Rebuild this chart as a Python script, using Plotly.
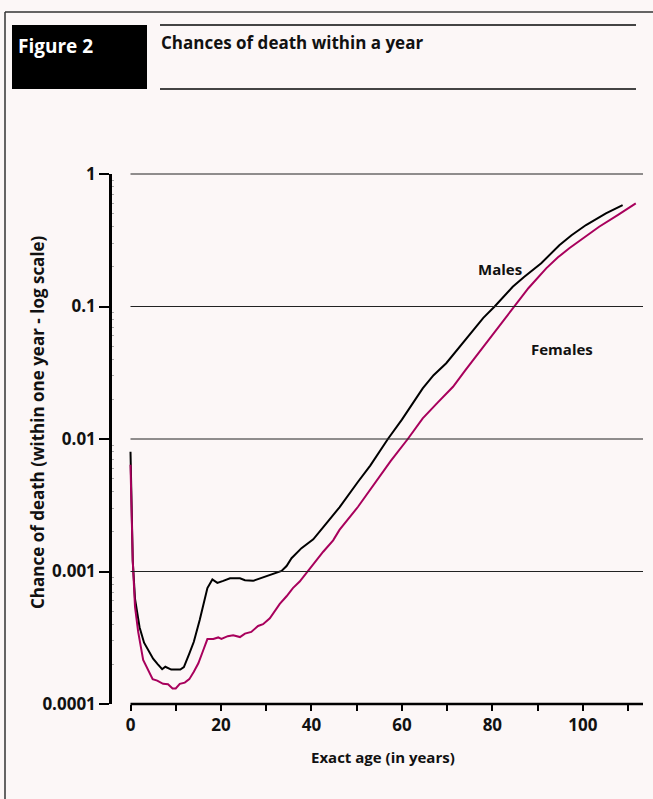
import math
import plotly.graph_objects as go

# Annual probability of death by exact age (log scale)
male_age = [0, 0.5, 1, 2, 3, 4, 5, 6, 7, 7.7, 8.5, 9, 11, 11.8, 13, 14, 15.3, 17, 18.1,
            19.2, 20.5, 22, 24.2, 25.3, 27.1, 30.1, 31.9, 33.4, 34.5, 35.6, 37.8, 40.4,
            43.3, 46.2, 50.3, 53, 56.9, 60, 64.6, 67, 69.8, 72, 75.7, 78, 80.5, 84.5, 87,
            90.8, 94.8, 97.5, 100.7, 105.1, 108.8]
male_q = [0.0080, 0.0012, 0.00062, 0.00038, 0.00029, 0.00025, 0.00022, 0.00020, 0.000183,
          0.000191, 0.000185, 0.000182, 0.000182, 0.00019, 0.00024, 0.000295, 0.00043,
          0.00075, 0.00087, 0.00082, 0.00085, 0.00089, 0.00089, 0.00086, 0.00085, 0.00092,
          0.00096, 0.00101, 0.00110, 0.00126, 0.00150, 0.00175, 0.00231, 0.00305, 0.00476,
          0.0063, 0.0100, 0.0140, 0.0241, 0.0303, 0.0373, 0.0460, 0.0665, 0.0820, 0.100,
          0.141, 0.167, 0.212, 0.290, 0.345, 0.412, 0.505, 0.583]

female_age = [0, 0.5, 1, 1.7, 2.8, 4, 4.9, 5.9, 7.2, 8.3, 9.3, 10, 10.9, 12, 13, 14, 15, 16,
              17, 18.3, 19.4, 20.1, 21.5, 22.7, 24.2, 25.3, 26.7, 28.2, 29.3, 30.8, 33,
              34.5, 35.9, 37.4, 39.2, 42.6, 44.8, 46.2, 50.3, 54, 57.5, 61.3, 64.6, 68,
              71.3, 74, 77.2, 80.5, 84.9, 88, 91.9, 94.5, 97, 100, 103.6, 107.7, 111.7]
female_q = [0.0064, 0.0012, 0.00054, 0.00035, 0.000215, 0.000175, 0.000154, 0.000150,
            0.000142, 0.000141, 0.000131, 0.000131, 0.000142, 0.000145, 0.000154, 0.000175,
            0.000203, 0.00025, 0.000309, 0.00031, 0.000318, 0.00031, 0.000325, 0.00033,
            0.00032, 0.00034, 0.00035, 0.000388, 0.00040, 0.000444, 0.00057, 0.00065,
            0.00075, 0.00084, 0.00101, 0.00141, 0.00172, 0.00206, 0.00308, 0.0046, 0.0068,
            0.0100, 0.0143, 0.0190, 0.0248, 0.0330, 0.0456, 0.064, 0.100, 0.138, 0.194,
            0.235, 0.275, 0.325, 0.40, 0.49, 0.60]

y_ticks = [0.0001, 0.001, 0.01, 0.1, 1]
y_tick_text = ["0.0001", "0.001", "0.01", "0.1", "1"]
x_ticks = list(range(0, 111, 10))
x_tick_text = [str(v) if v % 20 == 0 else "" for v in x_ticks]

W, H = 653, 799
L, R, T, B = 112, 10, 174, 95
BG = "#fcf7f7"
FONT = "Open Sans"
FEMALE_COLOR = "#a8005c"


def px(xp):
    return (xp - L) / (W - L - R)


def py(yp):
    return (H - B - yp) / (H - T - B)


def bold(size, color="#111"):
    return dict(family=FONT, size=size, color=color, weight=700)


fig = go.Figure()
fig.add_trace(go.Scatter(x=male_age, y=male_q, mode="lines", name="Males",
                         line=dict(color="#000000", width=2)))
fig.add_trace(go.Scatter(x=female_age, y=female_q, mode="lines", name="Females",
                         line=dict(color=FEMALE_COLOR, width=2)))

shapes = []
# horizontal reference lines at each decade above the floor
for v in y_ticks[1:]:
    yy = (math.log10(v) + 4) / 4
    shapes.append(dict(type="line", xref="x", yref="paper", x0=0, x1=113.3, y0=yy, y1=yy,
                       line=dict(color="#222", width=1)))
# detached x axis line starting at age 0
shapes.append(dict(type="line", xref="x", yref="paper", x0=0, x1=113.3, y0=0, y1=0,
                   line=dict(color="#000", width=2.5)))
# outer frame (top and left)
shapes.append(dict(type="line", xref="paper", yref="paper", x0=px(5), x1=px(653),
                   y0=py(12), y1=py(12), line=dict(color="#333", width=1.5)))
shapes.append(dict(type="line", xref="paper", yref="paper", x0=px(5), x1=px(5),
                   y0=py(12), y1=py(799), line=dict(color="#333", width=1.5)))
# header rules and label box
for yp in (25, 89):
    shapes.append(dict(type="line", xref="paper", yref="paper", x0=px(160), x1=px(636),
                       y0=py(yp), y1=py(yp), line=dict(color="#444", width=2)))
shapes.append(dict(type="rect", xref="paper", yref="paper", x0=px(12), x1=px(147),
                   y0=py(25), y1=py(89), fillcolor="#000", line=dict(width=0)))

annotations = [
    dict(text="Figure 2", xref="paper", yref="paper", x=px(16), y=py(46),
         xanchor="left", yanchor="middle", showarrow=False, font=bold(19, "#fff")),
    dict(text="Chances of death within a year", xref="paper", yref="paper",
         x=px(159), y=py(43), xanchor="left", yanchor="middle", showarrow=False,
         font=bold(17)),
    dict(text="Males", xref="paper", yref="paper", x=px(500), y=py(269),
         xanchor="center", yanchor="middle", showarrow=False, font=bold(15)),
    dict(text="Females", xref="paper", yref="paper", x=px(562), y=py(349),
         xanchor="center", yanchor="middle", showarrow=False, font=bold(15)),
    dict(text="Exact age (in years)", xref="paper", yref="paper", x=px(383),
         y=py(757), xanchor="center", yanchor="middle", showarrow=False, font=bold(15)),
    dict(text="Chance of death (within one year - log scale)", xref="paper",
         yref="paper", x=px(37), y=py(422), xanchor="center", yanchor="middle",
         textangle=-90, showarrow=False, font=bold(17)),
]

minor_vals = [m * 10 ** e for e in range(-4, 0) for m in range(2, 10)]

fig.update_layout(
    width=W, height=H,
    margin=dict(l=L, r=R, t=T, b=B),
    paper_bgcolor=BG, plot_bgcolor=BG,
    showlegend=False,
    shapes=shapes,
    annotations=annotations,
    font=dict(family=FONT, color="#111"),
    xaxis=dict(range=[-4.09, 113.3], showgrid=False, zeroline=False, showline=False,
               tickmode="array", tickvals=x_ticks, ticktext=x_tick_text,
               ticks="outside", ticklen=6, tickwidth=2, tickcolor="#000",
               tickfont=bold(17)),
    yaxis=dict(type="log", range=[-4, 0], showgrid=False, zeroline=False,
               showline=True, linecolor="#000", linewidth=2.5,
               tickmode="array", tickvals=y_ticks, ticktext=y_tick_text,
               ticks="outside", ticklen=10, tickwidth=2, tickcolor="#000",
               tickfont=bold(17),
               minor=dict(tickmode="array", tickvals=minor_vals, ticks="inside",
                          ticklen=2, tickwidth=1, tickcolor="#aaa", showgrid=False)),
)

fig.write_html("out.html")
